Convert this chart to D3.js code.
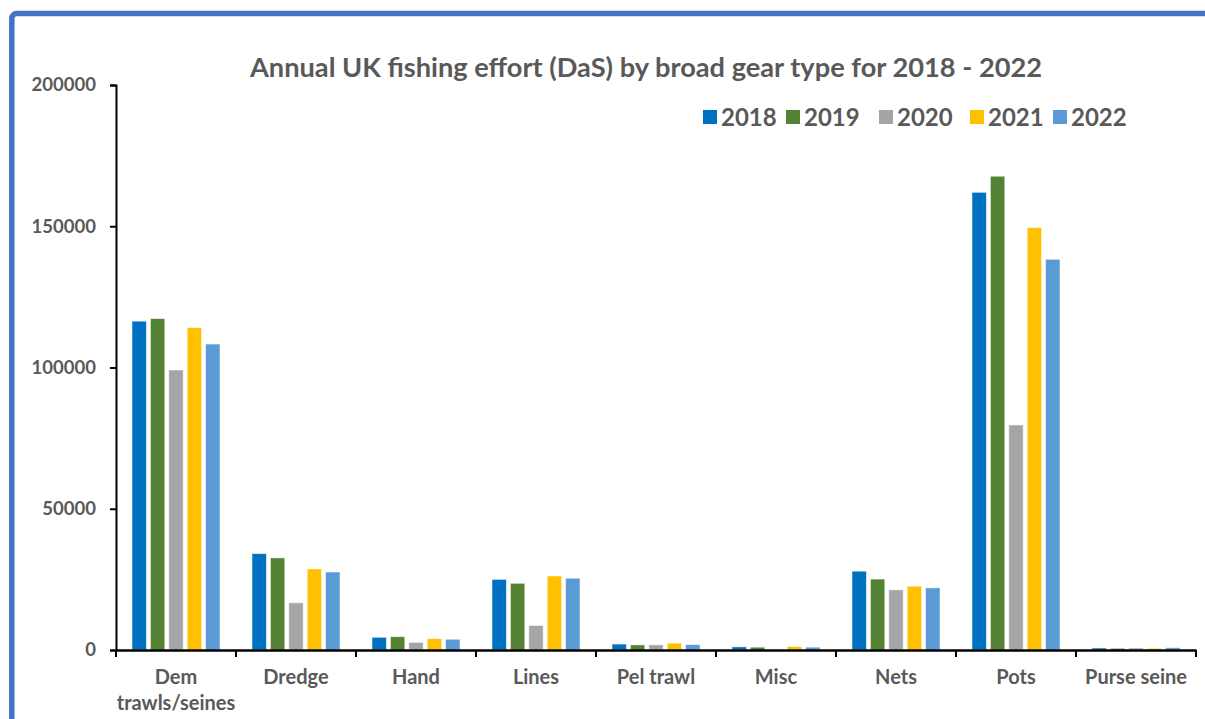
<!DOCTYPE html>
<html>
<head>
<meta charset="utf-8">
<script src="https://cdn.jsdelivr.net/npm/d3@7.9.0/dist/d3.min.js"></script>
<style>
  html, body { margin: 0; padding: 0; background: #fff; overflow: hidden; }
  svg text { font-family: Lato, "Open Sans", sans-serif; font-weight: bold; fill: #595959; }
</style>
</head>
<body>
<svg id="chart" width="1205" height="719"></svg>
<script>
const gearTypes = ["Dem trawls/seines", "Dredge", "Hand", "Lines", "Pel trawl", "Misc", "Nets", "Pots", "Purse seine"];
const years = ["2018", "2019", "2020", "2021", "2022"];

const effort2018 = [116400, 34100, 4500, 25000, 2100, 1100, 27900, 162000, 700];
const effort2019 = [117300, 32600, 4700, 23600, 1800, 1000, 25100, 167700, 600];
const effort2020 = [99100, 16700, 2700, 8700, 1800, 0, 21300, 79650, 700];
const effort2021 = [114100, 28700, 4000, 26200, 2400, 1200, 22600, 149500, 600];
const effort2022 = [108300, 27600, 3800, 25400, 1900, 1000, 22000, 138300, 800];

const yTicks = [0, 50000, 100000, 150000, 200000];
const yearColors = ["#0070C0", "#548235", "#A5A5A5", "#FFC000", "#5B9BD5"];

const series = [effort2018, effort2019, effort2020, effort2021, effort2022];
const data = gearTypes.map((g, i) => ({
  gear: g,
  values: years.map((y, j) => ({ year: y, value: series[j][i] }))
}));

const svg = d3.select("#chart");

// frame (cut off at right and bottom like the screenshot)
svg.append("rect")
  .attr("x", 11.8).attr("y", 13.5)
  .attr("width", 1400).attr("height", 1000)
  .attr("rx", 5)
  .attr("fill", "#fff")
  .attr("stroke", "#4472C4")
  .attr("stroke-width", 5.5);

const margin = { left: 116, right: 1196, top: 85, bottom: 650 };

const x0 = d3.scaleBand()
  .domain(gearTypes)
  .range([margin.left, margin.right])
  .padding(0);

const x1 = d3.scaleBand()
  .domain(years)
  .range([0, x0.bandwidth()])
  .paddingInner(0.22)
  .paddingOuter(0.87);

const y = d3.scaleLinear()
  .domain([0, 200000])
  .range([margin.bottom, margin.top]);

const color = d3.scaleOrdinal().domain(years).range(yearColors);

// bars
const groups = svg.append("g")
  .selectAll("g")
  .data(data)
  .join("g")
  .attr("transform", d => `translate(${x0(d.gear)},0)`);

groups.selectAll("rect")
  .data(d => d.values)
  .join("rect")
  .attr("x", d => x1(d.year))
  .attr("y", d => y(d.value))
  .attr("width", x1.bandwidth())
  .attr("height", d => y(0) - y(d.value))
  .attr("fill", d => color(d.year))
  .attr("stroke", "#fff")
  .attr("stroke-opacity", 0.6)
  .attr("stroke-width", 0.8);

// y axis
const yAxis = svg.append("g")
  .attr("transform", `translate(${margin.left},0)`)
  .call(d3.axisLeft(y).tickValues(yTicks).tickFormat(d3.format("d")).tickSize(6).tickPadding(14));

yAxis.select(".domain").attr("stroke", "#000").attr("stroke-width", 2);
yAxis.selectAll(".tick line").attr("stroke", "#000").attr("stroke-width", 2);
yAxis.selectAll(".tick text")
  .style("font-size", "18.5px")
  .attr("fill", "#595959");

// x axis
const xAxis = svg.append("g")
  .attr("transform", `translate(0,${margin.bottom})`)
  .call(d3.axisBottom(x0).tickSize(0).tickFormat(""));

xAxis.select(".domain").attr("stroke", "#000").attr("stroke-width", 2.5);

// category separator ticks
svg.append("g")
  .selectAll("line")
  .data(gearTypes.map(g => x0(g)).concat([margin.right]))
  .join("line")
  .attr("x1", d => d).attr("x2", d => d)
  .attr("y1", margin.bottom).attr("y2", margin.bottom + 7)
  .attr("stroke", "#000")
  .attr("stroke-width", 2);

// category labels
const labelLines = { "Dem trawls/seines": ["Dem", "trawls/seines"] };
svg.append("g")
  .selectAll("text")
  .data(gearTypes)
  .join("text")
  .attr("x", d => x0(d) + x0.bandwidth() / 2)
  .attr("y", 684)
  .attr("text-anchor", "middle")
  .style("font-size", "20px")
  .each(function (d) {
    const lines = labelLines[d] || [d];
    d3.select(this).selectAll("tspan")
      .data(lines)
      .join("tspan")
      .attr("x", x0(d) + x0.bandwidth() / 2)
      .attr("dy", (l, i) => i === 0 ? 0 : 26)
      .text(l => l);
  });

// title
svg.append("text")
  .attr("x", 646)
  .attr("y", 77)
  .attr("text-anchor", "middle")
  .style("font-size", "26px")
  .attr("textLength", 792)
  .attr("lengthAdjust", "spacingAndGlyphs")
  .text("Annual UK fishing effort (DaS) by broad gear type for 2018 - 2022");

// legend
const legendX = [703, 786, 879, 970, 1053];
const legend = svg.append("g")
  .selectAll("g")
  .data(years)
  .join("g")
  .attr("transform", (d, i) => `translate(${legendX[i]},110)`);

legend.append("rect")
  .attr("width", 14).attr("height", 14)
  .attr("fill", d => color(d));

legend.append("text")
  .attr("x", 18)
  .attr("y", 16)
  .style("font-size", "24px")
  .text(d => d);
</script>
</body>
</html>
